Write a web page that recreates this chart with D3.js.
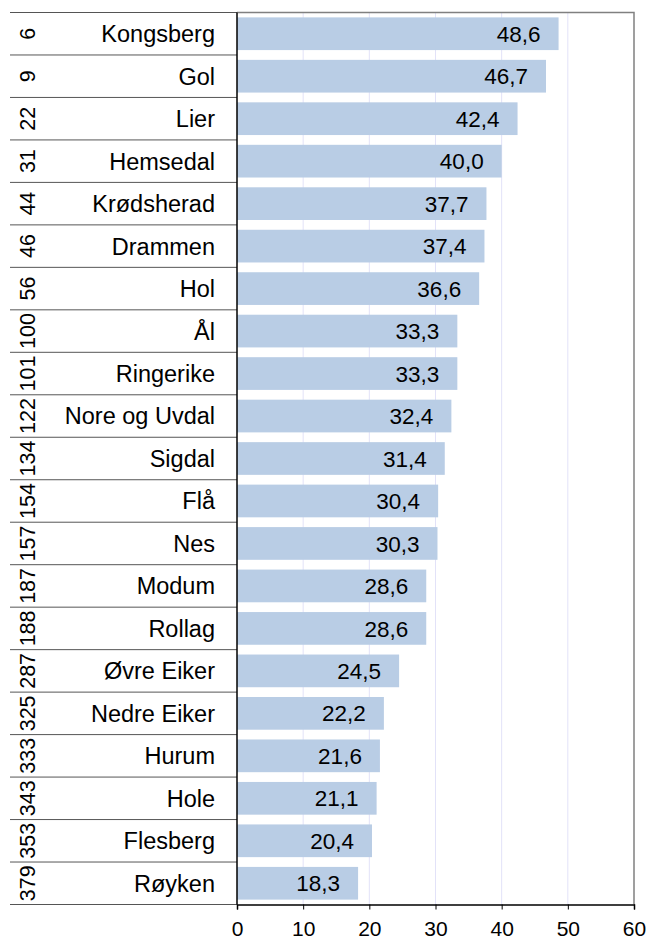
<!DOCTYPE html>
<html>
<head>
<meta charset="utf-8">
<script src="https://cdn.jsdelivr.net/npm/d3@7"></script>
<style>
  body { margin: 0; background: #fff; }
  text { font-family: "Liberation Sans", Arial, sans-serif; fill: #000; }
</style>
</head>
<body>
<svg id="chart" width="646" height="940"></svg>
<script>
const ranks = [6, 9, 22, 31, 44, 46, 56, 100, 101, 122, 134, 154, 157, 187, 188, 287, 325, 333, 343, 353, 379];
const names = ['Kongsberg', 'Gol', 'Lier', 'Hemsedal', 'Krødsherad', 'Drammen', 'Hol', 'Ål', 'Ringerike',
  'Nore og Uvdal', 'Sigdal', 'Flå', 'Nes', 'Modum', 'Rollag', 'Øvre Eiker', 'Nedre Eiker', 'Hurum', 'Hole',
  'Flesberg', 'Røyken'];
const values = [48.6, 46.7, 42.4, 40.0, 37.7, 37.4, 36.6, 33.3, 33.3, 32.4, 31.4, 30.4, 30.3, 28.6, 28.6,
  24.5, 22.2, 21.6, 21.1, 20.4, 18.3];
const xTicks = [0, 10, 20, 30, 40, 50, 60];

const mLeft = 237, mRight = 634, mTop = 12.5, mBottom = 904.5;
const svg = d3.select('#chart');

const x = d3.scaleLinear().domain([0, 60]).range([mLeft, mRight]);
const y = d3.scaleBand().domain(names).range([mTop, mBottom]).paddingInner(0.23).paddingOuter(0.115);
const row = d3.scaleBand().domain(names).range([mTop, mBottom]);
const fmt = v => d3.format('.1f')(v).replace('.', ',');

// gridlines
svg.append('g').selectAll('line')
  .data(xTicks.slice(1, -1))
  .enter()
  .append('line')
  .attr('x1', d => x(d)).attr('x2', d => x(d))
  .attr('y1', mTop).attr('y2', mBottom)
  .attr('stroke', '#e2e2f8')
  .attr('stroke-width', 1);

// frame top / right
svg.append('path')
  .attr('d', `M${mLeft},${mTop}H${mRight}V${mBottom}`)
  .attr('fill', 'none')
  .attr('stroke', '#808080')
  .attr('stroke-width', 1.5);

// bars
svg.append('g').selectAll('rect')
  .data(names)
  .enter()
  .append('rect')
  .attr('x', x(0))
  .attr('y', d => y(d))
  .attr('width', (d, i) => x(values[i]) - x(0))
  .attr('height', y.bandwidth())
  .attr('fill', '#b9cde5');

// value labels
svg.append('g').selectAll('text')
  .data(names)
  .enter()
  .append('text')
  .attr('x', (d, i) => x(values[i]) - 18)
  .attr('y', d => row(d) + row.bandwidth() / 2)
  .attr('dy', '0.36em')
  .attr('text-anchor', 'end')
  .attr('font-size', 22.5)
  .text((d, i) => fmt(values[i]));

// row separators in the category table
svg.append('g').selectAll('line')
  .data(d3.range(names.length + 1))
  .enter()
  .append('line')
  .attr('x1', 10).attr('x2', mLeft)
  .attr('y1', i => mTop + i * row.step())
  .attr('y2', i => mTop + i * row.step())
  .attr('stroke', '#555')
  .attr('stroke-width', 1);

// names
svg.append('g').selectAll('text')
  .data(names)
  .enter()
  .append('text')
  .attr('x', 215)
  .attr('y', d => row(d) + row.bandwidth() / 2)
  .attr('dy', '0.36em')
  .attr('text-anchor', 'end')
  .attr('font-size', 23.5)
  .text(d => d);

// rank numbers, rotated
svg.append('g').selectAll('text')
  .data(names)
  .enter()
  .append('text')
  .attr('transform', (d, i) => `translate(27,${row(d) + row.bandwidth() / 2}) rotate(-90)`)
  .attr('dy', '0.36em')
  .attr('text-anchor', 'middle')
  .attr('font-size', 21.5)
  .text((d, i) => ranks[i]);

// left axis line
svg.append('line')
  .attr('x1', mLeft).attr('x2', mLeft)
  .attr('y1', mTop).attr('y2', mBottom)
  .attr('stroke', '#000')
  .attr('stroke-width', 1.5);

// bottom axis
const xAxis = d3.axisBottom(x).tickValues(xTicks).tickSize(5).tickPadding(12).tickFormat(d => d);
const ax = svg.append('g')
  .attr('transform', `translate(0,${mBottom})`)
  .call(xAxis);
ax.select('.domain').attr('stroke', '#000').attr('stroke-width', 1.5);
ax.selectAll('.tick line').attr('stroke', '#000');
ax.selectAll('.tick text').attr('font-size', 21).attr('font-family', '"Liberation Sans", Arial, sans-serif').attr('fill', '#000');
</script>
</body>
</html>
